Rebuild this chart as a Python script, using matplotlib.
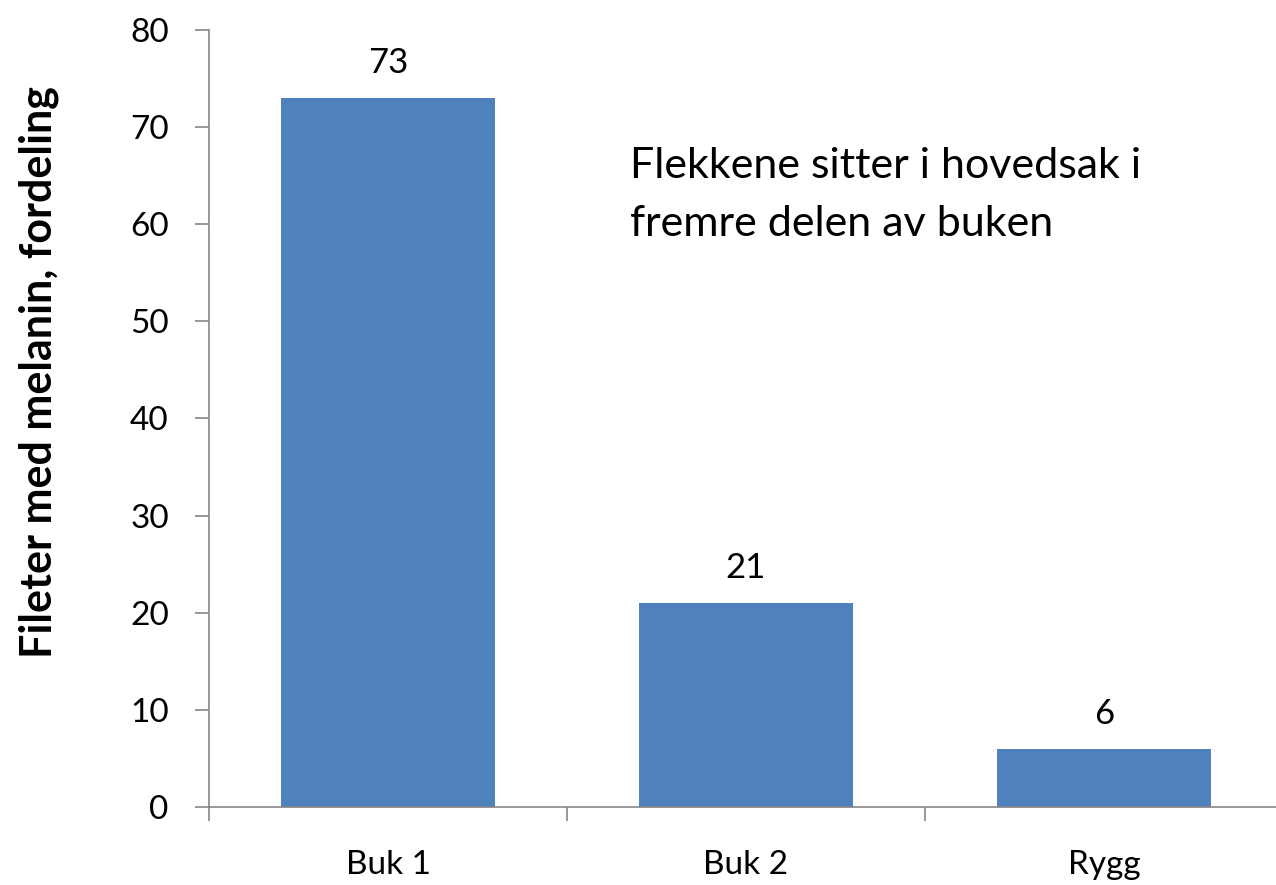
import numpy as np
import matplotlib.pyplot as plt

# data
categories = ['Buk 1', 'Buk 2', 'Rygg']
values = [73, 21, 6]
y_label = 'Fileter med melanin, fordeling'
note = 'Flekkene sitter i hovedsak i\nfremre delen av buken'

plt.rcParams['font.family'] = ['Lato', 'DejaVu Sans']

fig = plt.figure(figsize=(12.76, 8.85), dpi=100)
ax = fig.add_axes([209 / 1276, 78 / 885, 1074 / 1276, 777 / 885])

x = np.arange(len(categories))
bars = ax.bar(x, values, width=0.6, color='#4F81BD', zorder=2)

for xi, v in zip(x, values):
    ax.annotate(str(v), (xi, v), xytext=(0, 25), textcoords='offset points',
                ha='center', va='center', fontsize=25, color='black')

ax.set_xlim(-0.5, 2.5)
ax.set_ylim(0, 80)
ax.set_yticks(np.arange(0, 81, 10))

ax.set_xticks(x)
ax.set_xticklabels(categories)
ax.set_xticks(np.arange(-0.5, 2.6, 1), minor=True)
ax.tick_params(axis='x', which='major', length=0, pad=31, labelsize=24)
ax.tick_params(axis='x', which='minor', length=10, width=1.2, color='#868686')
ax.tick_params(axis='y', length=10, width=1.2, color='#868686', pad=19, labelsize=24)

for s in ['top', 'right']:
    ax.spines[s].set_visible(False)
for s in ['left', 'bottom']:
    ax.spines[s].set_color('#868686')
    ax.spines[s].set_linewidth(1.2)

# y label sits a bit above the axes centre in the original
fig.text(39 / 1276, 1 - 372 / 885, y_label, rotation=90, ha='center', va='center',
         fontsize=31, fontweight='bold')

ax.text(0.675, 68.0, note, fontsize=31, ha='left', va='top', linespacing=1.65)

fig.savefig('out.png', dpi=100)
